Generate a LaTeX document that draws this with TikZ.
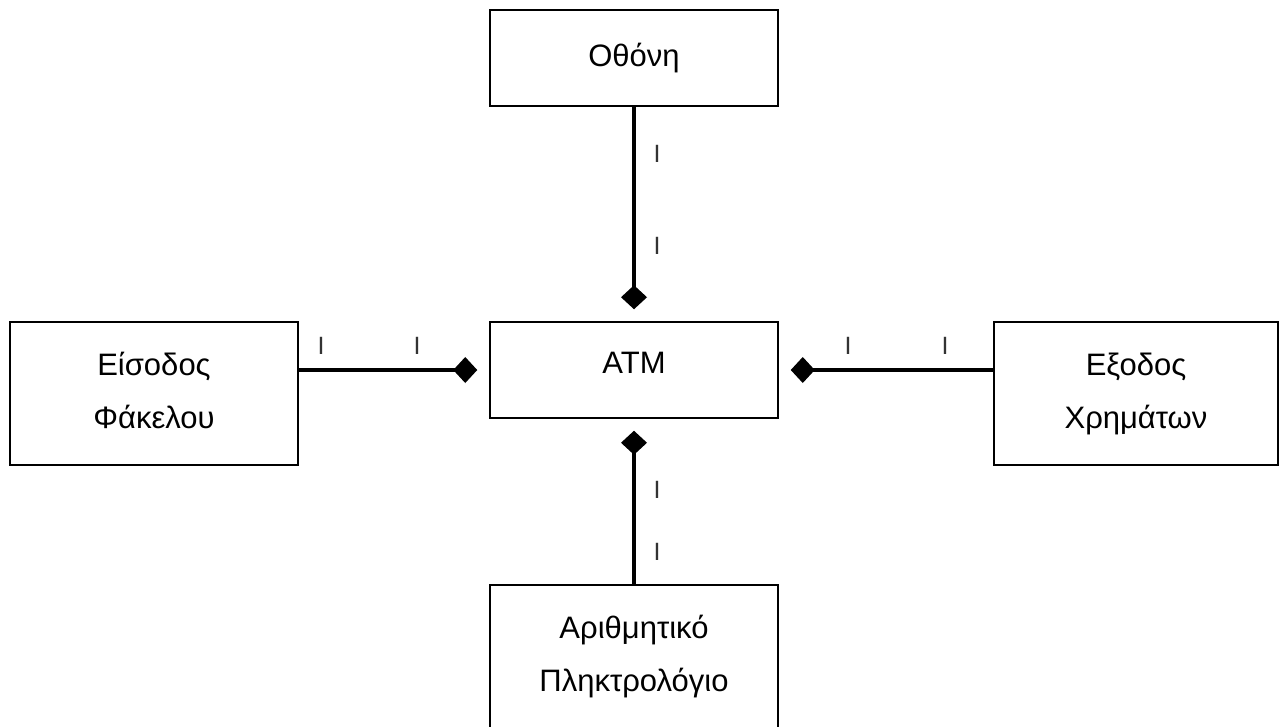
\documentclass[tikz,border=0pt]{standalone}
\usepackage{fontspec}
\setmainfont{Liberation Sans}
\usetikzlibrary{arrows.meta}
\begin{document}
\begin{tikzpicture}[x=1pt,y=-1pt,
  box/.style={draw=black, line width=1.5pt, rectangle, inner sep=0pt,
    align=center, font=\fontsize{31}{53}\selectfont},
  link/.style={line width=4pt, line cap=butt},
  agg/.style={link, -{Diamond[length=24pt,width=26pt]}, shorten >=12pt},
  aggback/.style={link, {Diamond[length=24pt,width=26pt]}-, shorten <=12pt},
  mult/.style={font=\fontsize{25}{25}\selectfont, text=black!80, inner sep=0pt}]
  \useasboundingbox (0,0) rectangle (1280,726);
  \clip (0,0) rectangle (1280,726);

  % classes
  \node[box, minimum width=288pt, minimum height=96pt] (screen) at (634,58) {Οθόνη};
  \node[box, minimum width=288pt, minimum height=96pt, text depth=14pt] (atm) at (634,370) {ATM};
  \node[box, minimum width=288pt, minimum height=143pt, text depth=7pt] (envelope) at (154,393.5) {Είσοδος\\Φάκελου};
  \node[box, minimum width=284pt, minimum height=143pt] (cash) at (1136,393.5) {Εξοδος\\Χρημάτων};
  \node[box, minimum width=288pt, minimum height=144pt] (keypad) at (634,657) {Αριθμητικό\\Πληκτρολόγιο};

  % aggregation links
  \draw[agg] (screen.south) -- (atm.north);
  \draw[aggback] (atm.south) -- (keypad.north);
  \draw[aggback] (atm.west) -- (atm.west -| envelope.east);
  \draw[aggback] (atm.east) -- (atm.east -| cash.west);

  % multiplicities
  \node[mult] (m1) at (657,154) {I};
  \node[mult] (m2) at (657,246) {I};
  \node[mult] (m3) at (321,346) {I};
  \node[mult] (m4) at (417,346) {I};
  \node[mult] (m5) at (848,346) {I};
  \node[mult] (m6) at (945,346) {I};
  \node[mult] (m7) at (657,490) {I};
  \node[mult] (m8) at (657,552) {I};
\end{tikzpicture}
\end{document}
